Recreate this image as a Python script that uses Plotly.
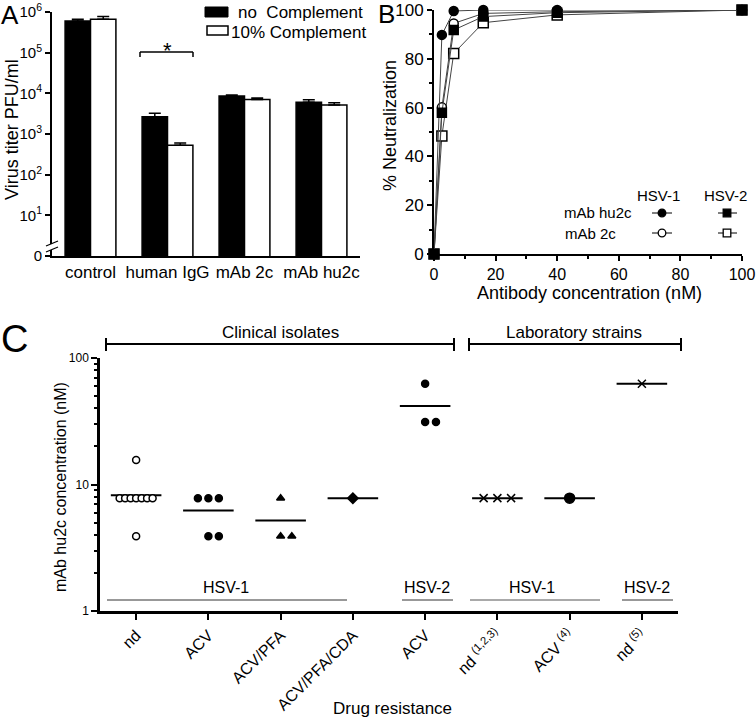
import numpy as np
import plotly.graph_objects as go

W, H = 756, 719
def px(x): return x / W
def py(y): return 1 - y / H

FONT = "Liberation Sans, Arial, sans-serif"

# ---------------- Panel A data ----------------
a_categories = ["control", "human IgG", "mAb 2c", "mAb hu2c"]
a_no_comp = [6.0e5, 2.65e3, 8.6e3, 6.0e3]
a_no_comp_err = [0.6e5, 0.6e3, 0.5e3, 1.0e3]
a_comp = [6.6e5, 5.3e2, 7.1e3, 5.2e3]
a_comp_err = [1.2e5, 73, 0.6e3, 0.7e3]
a_ytick_vals = [1, 10, 100, 1e3, 1e4, 1e5, 1e6]
a_ytick_text = ["0", "10<sup>1</sup>", "10<sup>2</sup>", "10<sup>3</sup>",
                "10<sup>4</sup>", "10<sup>5</sup>", "10<sup>6</sup>"]

# ---------------- Panel B data ----------------
b_conc = [0, 2.56, 6.4, 16, 40, 100]
b_hu2c_hsv1 = [0, 89.8, 99.6, 100, 100, 100]
b_2c_hsv1 = [0, 60.1, 94.5, 98.6, 99.3, 100]
b_hu2c_hsv2 = [0, 57.9, 91.8, 97.3, 98.9, 100]
b_2c_hsv2 = [0, 48.4, 82.2, 94.8, 98.0, 100]

# ---------------- Panel C data ----------------
c_labels = ["nd", "ACV", "ACV/PFA", "ACV/PFA/CDA", "ACV",
            "nd <sup>(1,2,3)</sup>", "ACV <sup>(4)</sup>", "nd <sup>(5)</sup>"]
c_nd_hsv1 = [15.6, 7.8, 7.8, 7.8, 7.8, 7.8, 7.8, 7.8, 3.9]
c_acv_hsv1 = [7.8, 7.8, 7.8, 3.9, 3.9]
c_acv_pfa_hsv1 = [7.8, 3.9, 3.9]
c_acv_pfa_cda_hsv1 = [7.8]
c_acv_hsv2 = [62.5, 31.25, 31.25]
c_lab_nd_hsv1 = [7.8, 7.8, 7.8]
c_lab_acv_hsv1 = [7.8]
c_lab_nd_hsv2 = [62.5]
c_ytick_vals = [1, 10, 100]
c_minor_vals = [2, 3, 4, 5, 6, 7, 8, 9, 20, 30, 40, 50, 60, 70, 80, 90]

fig = go.Figure()

# ---------------- Panel A ----------------
fig.add_trace(go.Bar(x=a_categories, y=a_no_comp, xaxis="x", yaxis="y",
                     marker=dict(color="black", line=dict(color="black", width=1.5)),
                     error_y=dict(type="data", symmetric=False, array=a_no_comp_err,
                                  arrayminus=[0]*4, color="black", thickness=1.5, width=6),
                     showlegend=False))
fig.add_trace(go.Bar(x=a_categories, y=a_comp, xaxis="x", yaxis="y",
                     marker=dict(color="white", line=dict(color="black", width=1.5)),
                     error_y=dict(type="data", symmetric=False, array=a_comp_err,
                                  arrayminus=[0]*4, color="black", thickness=1.5, width=6),
                     showlegend=False))

# ---------------- Panel B ----------------
line_c = "#444444"
def b_trace(y, symbol, fill, size):
    return go.Scatter(x=b_conc, y=y, xaxis="x2", yaxis="y2", mode="lines+markers",
                      line=dict(color=line_c, width=1),
                      marker=dict(symbol=symbol, size=size, color=fill,
                                  line=dict(color="black", width=1.5)),
                      cliponaxis=False, showlegend=False)
fig.add_trace(b_trace(b_2c_hsv2, "square", "white", 10))
fig.add_trace(b_trace(b_2c_hsv1, "circle", "white", 9))
fig.add_trace(b_trace(b_hu2c_hsv1, "circle", "black", 9))
fig.add_trace(b_trace(b_hu2c_hsv2, "square", "black", 9))

# ---------------- Panel C ----------------
c_groups = [
    (c_nd_hsv1, "circle", "white", 7, 0.076),
    (c_acv_hsv1, "circle", "black", 7, 0.145),
    (c_acv_pfa_hsv1, "triangle-up", "black", 7, 0.155),
    (c_acv_pfa_cda_hsv1, "diamond", "black", 8, 0.15),
    (c_acv_hsv2, "circle", "black", 7, 0.15),
    (c_lab_nd_hsv1, "x-thin", "black", 8, 0.19),
    (c_lab_acv_hsv1, "circle", "black", 10, 0.15),
    (c_lab_nd_hsv2, "x-thin", "black", 8, 0.19),
]

def spread(vals, step):
    totals = {v: vals.count(v) for v in vals}
    seen = {}
    offs = []
    for v in vals:
        i = seen.get(v, 0)
        seen[v] = i + 1
        offs.append((i - (totals[v] - 1) // 2) * step)
    return offs

for k, (vals, sym, fill, size, step) in enumerate(c_groups):
    pos = k + 1
    m = float(np.mean(vals))
    fig.add_trace(go.Scatter(x=[pos - 0.35, pos + 0.35], y=[m, m], xaxis="x3", yaxis="y3",
                             mode="lines", line=dict(color="black", width=2),
                             showlegend=False, hoverinfo="skip"))
for k, (vals, sym, fill, size, step) in enumerate(c_groups):
    pos = k + 1
    xs = [pos + o for o in spread(vals, step)]
    mline = dict(color="black", width=1.5)
    fig.add_trace(go.Scatter(x=xs, y=vals, xaxis="x3", yaxis="y3", mode="markers",
                             marker=dict(symbol=sym, size=size, color=fill, line=mline),
                             showlegend=False, cliponaxis=False))

def tf(size):
    return dict(family=FONT, size=size, color="black")

axis_common = dict(showline=True, linecolor="black", showgrid=False, zeroline=False,
                   tickcolor="black", automargin=False)

fig.update_layout(
    width=W, height=H, autosize=False,
    margin=dict(l=0, r=0, t=0, b=0, pad=0, autoexpand=False),
    paper_bgcolor="white", plot_bgcolor="white",
    font=dict(family=FONT, color="black"),
    barmode="group", bargap=0.34, bargroupgap=0,
    xaxis=dict(domain=[px(52), px(360)], anchor="y", type="category",
               ticks="", tickfont=tf(17), linewidth=2, **axis_common),
    yaxis=dict(domain=[py(256), py(12)], anchor="x", type="log", range=[0, 6],
               tickvals=a_ytick_vals, ticktext=a_ytick_text, ticks="outside",
               ticklen=5, tickwidth=2, linewidth=2, tickfont=tf(15), **axis_common),
    xaxis2=dict(domain=[px(434), px(742)], anchor="y2", range=[0, 100], dtick=20,
                ticks="outside", ticklen=5, tickwidth=2, linewidth=2, tickfont=tf(16),
                ticklabeloverflow="allow",
                minor=dict(ticks="outside", ticklen=3, tickwidth=1.5, dtick=10, tickcolor="black"),
                **axis_common),
    yaxis2=dict(domain=[py(254), py(10)], anchor="x2", range=[0, 100], dtick=20,
                ticks="outside", ticklen=5, tickwidth=2, linewidth=2, tickfont=tf(17),
                ticklabeloverflow="allow",
                minor=dict(ticks="outside", ticklen=3, tickwidth=1.5, dtick=10, tickcolor="black"),
                **axis_common),
    xaxis3=dict(domain=[px(100), px(678)], anchor="y3", range=[0.5, 8.5],
                tickvals=list(range(1, 9)), ticktext=c_labels, tickangle=-45,
                ticks="outside", ticklen=6, tickwidth=2, linewidth=2.5, tickfont=tf(16),
                **axis_common),
    yaxis3=dict(domain=[py(611), py(358)], anchor="x3", type="log", range=[0, 2],
                tickvals=c_ytick_vals, ticktext=[str(v) for v in c_ytick_vals],
                ticks="outside", ticklen=6, tickwidth=2, linewidth=2.5, tickfont=tf(12),
                minor=dict(ticks="outside", ticklen=3, tickwidth=1.5,
                           tickvals=c_minor_vals, tickcolor="black"),
                **axis_common),
)

shapes = []
ann = []
def line(x0, y0, x1, y1, w=1.5, color="black"):
    shapes.append(dict(type="line", xref="paper", yref="paper",
                       x0=px(x0), y0=py(y0), x1=px(x1), y1=py(y1),
                       line=dict(color=color, width=w)))
def text(x, y, s, size=17, xanchor="center", yanchor="middle", angle=0):
    ann.append(dict(xref="paper", yref="paper", x=px(x), y=py(y), text=s, showarrow=False,
                    xanchor=xanchor, yanchor=yanchor, textangle=angle,
                    font=tf(size)))

# Panel letters
text(10, 15, "A", size=26)
text(386, 14, "B", size=26)
text(14, 339, "C", size=38)

# Panel A extras
text(12, 130, "Virus titer PFU/ml", size=18, angle=-90)
shapes.append(dict(type="rect", xref="paper", yref="paper", x0=px(205), x1=px(228),
                   y0=py(17), y1=py(7), fillcolor="black", line=dict(color="black", width=1)))
shapes.append(dict(type="rect", xref="paper", yref="paper", x0=px(207), x1=px(228),
                   y0=py(35), y1=py(26), fillcolor="white", line=dict(color="black", width=1.5)))
text(236, 12, "no  Complement", size=17, xanchor="left")
text(229, 32, "10% Complement", size=17, xanchor="left")
line(140, 57, 140, 52); line(140, 52, 193, 52); line(193, 52, 193, 57)
text(167, 50, "*", size=22)
# axis break
shapes.append(dict(type="rect", xref="paper", yref="paper", x0=px(49), x1=px(55),
                   y0=py(250), y1=py(244), fillcolor="white", line=dict(width=0)))
line(46, 246, 58, 241, w=1.3)
line(46, 252, 58, 247, w=1.3)

# Panel B extras
text(390, 126, "% Neutralization", size=18, angle=-90)
text(589, 293, "Antibody concentration (nM)", size=18)
text(658, 195, "HSV-1", size=15)
text(725, 195, "HSV-2", size=15)
text(562, 213, "mAb hu2c", size=15, xanchor="left")
text(563, 233, "mAb 2c", size=15, xanchor="left")
line(652, 213, 672, 213, w=1); line(718, 213, 737, 213, w=1)
line(652, 233, 672, 233, w=1); line(718, 233, 737, 233, w=1)
def glyph(kind, cx, cy, fill, r=3.8):
    shapes.append(dict(type=kind, xref="paper", yref="paper",
                       x0=px(cx - r), x1=px(cx + r), y0=py(cy + r), y1=py(cy - r),
                       fillcolor=fill, line=dict(color="black", width=1.3)))
glyph("circle", 662, 213, "black")
glyph("rect", 727, 213, "black")
glyph("circle", 662, 233, "white")
glyph("rect", 727, 233, "white")

# Panel C extras
text(60, 487, "mAb hu2c concentration (nM)", size=16, angle=-90)
text(392, 708, "Drug resistance", size=17)
text(280, 332, "Clinical isolates", size=17)
text(574, 332, "Laboratory strains", size=17)
line(106, 344, 454, 344, w=2); line(106, 338, 106, 351, w=2); line(454, 338, 454, 351, w=2)
line(469, 344, 681, 344, w=2); line(469, 338, 469, 351, w=2); line(681, 338, 681, 351, w=2)
text(226, 587, "HSV-1", size=16)
text(427, 587, "HSV-2", size=16)
text(532, 587, "HSV-1", size=16)
text(647, 587, "HSV-2", size=16)
line(107, 600, 347, 600, w=1, color="#333")
line(402, 600, 453, 600, w=1, color="#333")
line(470, 600, 600, 600, w=1, color="#555")
line(622, 600, 673, 600, w=1, color="#333")

fig.update_layout(shapes=shapes, annotations=ann)
fig.write_html("out.html", config={"responsive": False, "displayModeBar": False},
               post_script="document.body.style.margin='0px';document.body.style.overflow='hidden';")
